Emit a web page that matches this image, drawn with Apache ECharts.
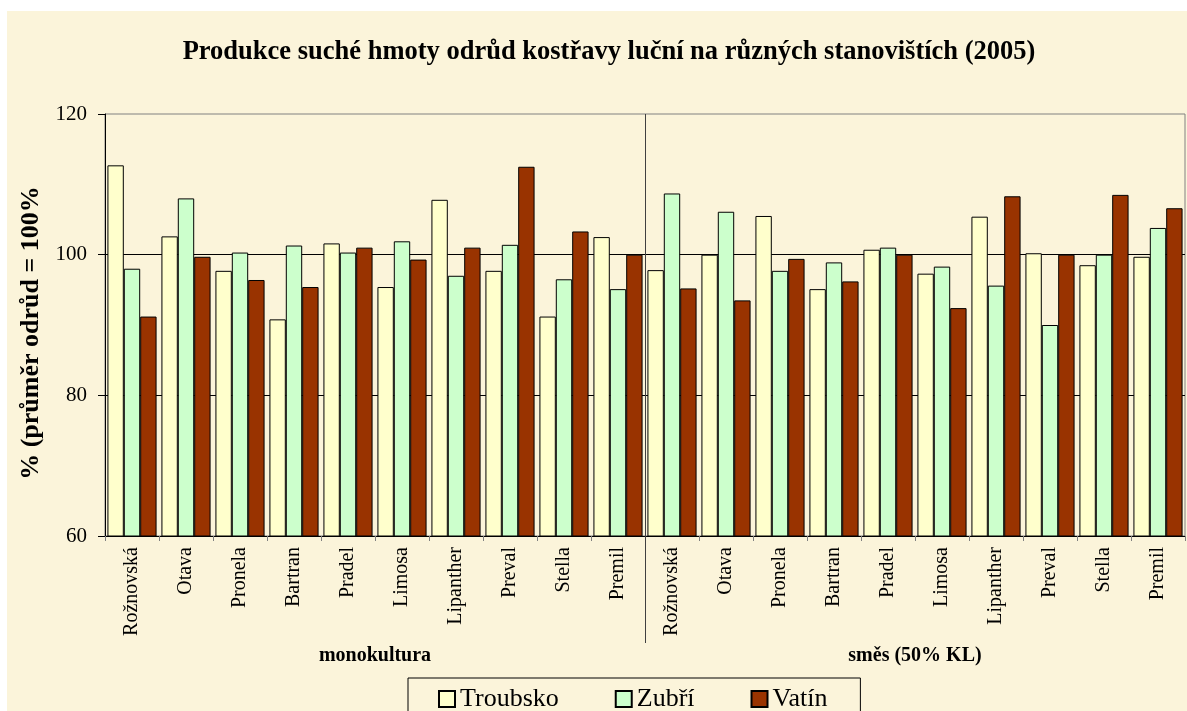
<!DOCTYPE html>
<html>
<head>
<meta charset="utf-8">
<script src="https://cdn.jsdelivr.net/npm/echarts@6/dist/echarts.min.js"></script>
<style>
  html, body { margin: 0; padding: 0; background: #ffffff; }
  #chart { position: absolute; left: 7px; top: 11px; width: 1180px; height: 700px; }
</style>
</head>
<body>
<div id="chart"></div>
<script>
const categories = ['Rožnovská','Otava','Pronela','Bartran','Pradel','Limosa','Lipanther','Preval','Stella','Premil',
                    'Rožnovská','Otava','Pronela','Bartran','Pradel','Limosa','Lipanther','Preval','Stella','Premil'];
const groups = ['monokultura', 'směs (50% KL)'];
const troubsko = [112.7, 102.6, 97.7, 90.8, 101.6, 95.4, 107.8, 97.7, 91.2, 102.5,
                  97.8, 100.0, 105.5, 95.1, 100.7, 97.3, 105.4, 100.2, 98.5, 99.7];
const zubri = [98.0, 108.0, 100.3, 101.3, 100.3, 101.9, 97.0, 101.4, 96.5, 95.1,
               108.7, 106.1, 97.7, 98.9, 101.0, 98.3, 95.6, 90.0, 100.0, 103.8];
const vatin = [91.2, 99.7, 96.4, 95.4, 101.0, 99.3, 101.0, 112.5, 103.3, 100.0,
               95.2, 93.5, 99.4, 96.2, 100.0, 92.4, 108.3, 100.0, 108.5, 106.6];
const seriesNames = ['Troubsko', 'Zubří', 'Vatín'];
const title = 'Produkce suché hmoty odrůd kostřavy luční na různých stanovištích (2005)';
const yName = '% (průměr odrůd = 100%';

const FONT = "'Liberation Serif', 'Times New Roman', serif";
const colors = ['#FFFFCC', '#CCFFCC', '#993300'];

const chart = echarts.init(document.getElementById('chart'), null, {renderer: 'canvas'});

const mkSeries = (name, data, color) => ({
  name: name,
  type: 'bar',
  xAxisIndex: 0,
  data: data,
  barGap: '0%',
  barCategoryGap: '9%',
  itemStyle: { color: color, borderColor: '#000000', borderWidth: 1 },
  emphasis: { disabled: true },
  animation: false
});

chart.setOption({
  backgroundColor: '#FBF4DA',
  animation: false,
  textStyle: { fontFamily: FONT, color: '#000' },
  title: {
    text: title,
    left: 597,
    textAlign: 'center',
    top: 23,
    textStyle: { fontFamily: FONT, fontSize: 26.5, fontWeight: 'bold', color: '#000' }
  },
  legend: {
    data: seriesNames,
    left: 401,
    top: 667,
    orient: 'horizontal',
    icon: 'rect',
    itemWidth: 16,
    itemHeight: 16,
    itemGap: 56,
    padding: [8, 33, 14, 30],
    borderColor: '#000',
    borderWidth: 1,
    textStyle: { fontFamily: FONT, fontSize: 26, color: '#000' }
  },
  grid: {
    left: 98, top: 103, width: 1080, height: 422,
    show: true, borderColor: '#808080', borderWidth: 1, backgroundColor: 'transparent'
  },
  xAxis: [
    {
      type: 'category',
      position: 'bottom',
      data: categories,
      axisLine: { show: true, lineStyle: { color: '#000', width: 1 } },
      axisTick: { show: true, length: 5, lineStyle: { color: '#808080' } },
      axisLabel: { interval: 0, rotate: 90, margin: 11, fontFamily: FONT, fontSize: 20, color: '#000' },
      splitLine: { show: false }
    },
    {
      type: 'category',
      position: 'bottom',
      data: groups,
      axisLine: { show: false },
      axisTick: { show: false },
      axisLabel: { interval: 0, margin: 110, fontFamily: FONT, fontSize: 20, fontWeight: 'bold', color: '#000' },
      splitLine: { show: false }
    },
    {
      type: 'category',
      position: 'bottom',
      boundaryGap: false,
      data: ['', '', ''],
      axisLine: { show: false },
      axisLabel: { show: false },
      axisTick: { show: true, length: 107, interval: function (i) { return i === 1; }, lineStyle: { color: '#404040', width: 1 } },
      splitLine: { show: true, interval: function (i) { return i === 1; }, lineStyle: { color: '#404040', width: 1 } }
    }
  ],
  yAxis: {
    type: 'value',
    min: 60, max: 120, interval: 20,
    name: yName,
    nameLocation: 'middle',
    nameRotate: 90,
    nameGap: 60,
    nameTextStyle: { fontFamily: FONT, fontSize: 26, fontWeight: 'bold', color: '#000', padding: [0, 16, 0, 0] },
    axisLine: { show: true, lineStyle: { color: '#000', width: 1 } },
    axisTick: { show: true, length: 7, lineStyle: { color: '#000' } },
    axisLabel: { margin: 18, fontFamily: FONT, fontSize: 21, color: '#000' },
    splitLine: { show: true, showMinLine: false, showMaxLine: false, lineStyle: { color: '#000', width: 1 } }
  },
  series: [
    mkSeries(seriesNames[0], troubsko, colors[0]),
    mkSeries(seriesNames[1], zubri, colors[1]),
    mkSeries(seriesNames[2], vatin, colors[2])
  ]
});
</script>
</body>
</html>
